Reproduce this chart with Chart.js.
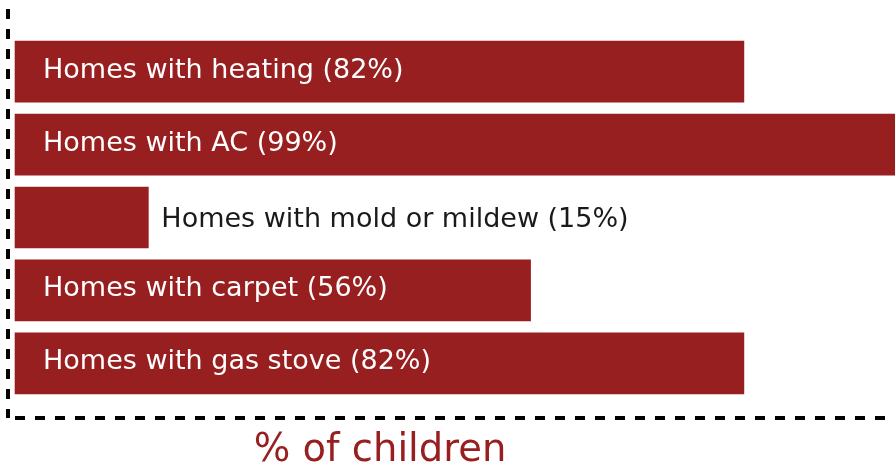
<!DOCTYPE html>
<html>
<head>
<meta charset="utf-8">
<script src="https://cdn.jsdelivr.net/npm/chart.js@4/dist/chart.umd.min.js"></script>
<style>
  html, body { margin: 0; padding: 0; background: #fff; }
</style>
</head>
<body>
<canvas id="chart" width="895" height="466"></canvas>
<script>
// data
const labels = [
  'Homes with heating (82%)',
  'Homes with AC (99%)',
  'Homes with mold or mildew (15%)',
  'Homes with carpet (56%)',
  'Homes with gas stove (82%)'
]
const rows = [0, 1, 2, 3, 4]
const values = [82, 99, 15, 58, 82]
const axisTitle = '% of children'

const RED = '#981f20'
const FONT = '"DejaVu Sans", sans-serif'

// text on / next to each bar
const barLabels = {
  id: 'barLabels',
  afterDatasetsDraw(chart) {
    const ctx = chart.ctx
    const meta = chart.getDatasetMeta(0)
    ctx.save()
    ctx.font = '27px ' + FONT
    ctx.textBaseline = 'alphabetic'
    meta.data.forEach((bar, i) => {
      const w = ctx.measureText(labels[i]).width
      const inside = (bar.x - bar.base) > w + 40
      ctx.fillStyle = inside ? '#ffffff' : '#1a1a1a'
      if (inside) ctx.fillText(labels[i], bar.base + 28, bar.y + 6)
      else ctx.fillText(labels[i], bar.x + 13, bar.y + 9)
    })
    ctx.restore()
  }
}

// axis title sits left of centre in the original
const xTitle = {
  id: 'xTitle',
  afterDraw(chart) {
    const ctx = chart.ctx
    ctx.save()
    ctx.font = '38.5px ' + FONT
    ctx.fillStyle = RED
    ctx.textAlign = 'center'
    ctx.textBaseline = 'alphabetic'
    ctx.fillText(axisTitle, 380, 461)
    ctx.restore()
  }
}

// dashed axis lines = one grid line at the scale's edge
// (border.dash only styles grid lines, the border itself stays solid)
const edgeGrid = { display: true, drawTicks: false, offset: false, lineWidth: 4, color: '#000' }

new Chart(document.getElementById('chart').getContext('2d'), {
  type: 'bar',
  data: {
    datasets: [{
      data: values.map((v, i) => ({ x: v, y: rows[i] })),
      backgroundColor: RED,
      borderWidth: 0,
      barThickness: 61
    }]
  },
  options: {
    indexAxis: 'y',
    responsive: false,
    animation: false,
    layout: { padding: { top: 9, left: 0, right: 0, bottom: 0 } },
    plugins: {
      legend: { display: false },
      tooltip: { enabled: false }
    },
    scales: {
      x: {
        type: 'linear',
        min: -0.79,
        max: 99,
        grid: edgeGrid,
        ticks: { display: false },
        border: { display: false, dash: [10, 10], dashOffset: 0 },
        afterBuildTicks(scale) { scale.ticks = [{ value: scale.min }] },
        afterFit(scale) { scale.height = 48 }
      },
      y: {
        type: 'linear',
        reverse: true,
        offset: false,
        min: -0.86,
        max: 4.75,
        grid: edgeGrid,
        ticks: { display: false },
        border: { display: false, dash: [10, 10], dashOffset: 13 },
        afterBuildTicks(scale) { scale.ticks = [{ value: scale.max }] },
        afterFit(scale) { scale.width = 8 }
      }
    }
  },
  plugins: [barLabels, xTitle]
})
</script>
</body>
</html>
